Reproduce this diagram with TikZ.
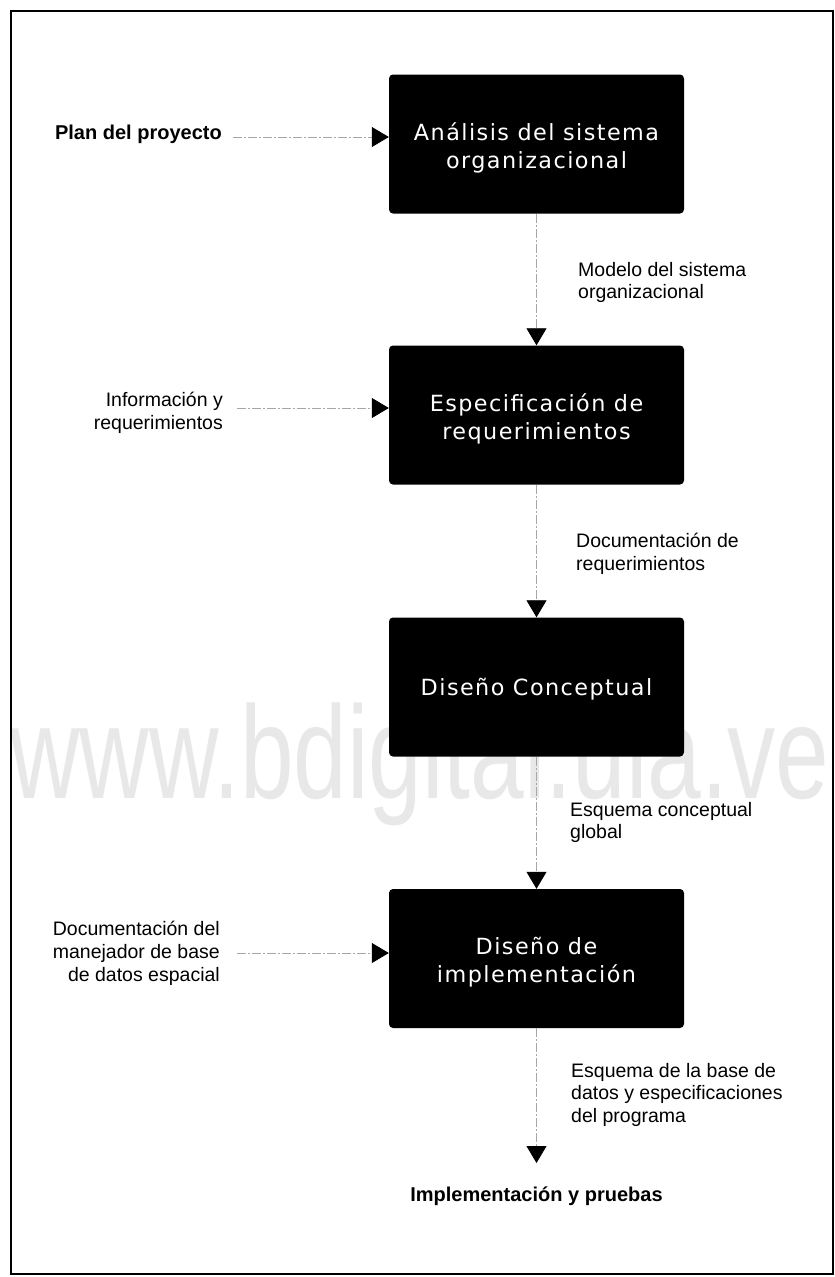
\documentclass[tikz,border=0pt]{standalone}
\usepackage{fontspec}
\setmainfont{Liberation Sans}
\newfontfamily\boxfont[LetterSpace=6.5]{DejaVu Sans}
\newfontfamily\wmfont[FakeStretch=0.73]{Liberation Sans}
\usetikzlibrary{arrows.meta}
\begin{document}
\begin{tikzpicture}[x=1pt,y=-1pt,
  procbox/.style={fill=black, rounded corners=4pt, minimum width=295pt, minimum height=139pt, inner sep=0pt},
  proctext/.style={inner sep=0pt, text=white, align=center, font=\boxfont\fontsize{22.3}{28}\selectfont},
  sidelbl/.style={inner sep=0pt, align=left, anchor=north west, font=\fontsize{19.5}{22.5}\selectfont},
  leftlbl/.style={inner sep=0pt, align=right, anchor=north east, font=\fontsize{19.5}{23}\selectfont},
  boldlbl/.style={inner sep=0pt, font=\bfseries\fontsize{20}{23}\selectfont},
  conn/.style={draw=gray!70, line width=0.8pt, dash pattern=on 9pt off 2pt on 2pt off 2pt, -{Triangle[width=20pt,length=17pt,color=black]}},
  frame/.style={draw=black, line width=1.6pt}
]
\useasboundingbox (0,0) rectangle (835,1277);
\fill[white] (0,0) rectangle (835,1277);
% watermark
\node[anchor=base west, inner sep=0pt, text=black!9, font=\wmfont\fontsize{132}{132}\selectfont] (wm) at (10,798) {www.bdigital.ula.ve};
% frame
\draw[frame] (11,11) rectangle (833,1274);
% process boxes
\node[procbox] (b1) at (536.5,144) {};
\node[procbox] (b2) at (536.5,415) {};
\node[procbox] (b3) at (536.5,687) {};
\node[procbox] (b4) at (536.5,958.5) {};
\node[proctext] (t1) at ([yshift=-4pt]b1.center) {Análisis del sistema\\organizacional};
\node[proctext] (t2) at ([yshift=-4pt]b2.center) {Especificación de\\requerimientos};
\node[proctext] (t3) at ([yshift=-2pt]b3.center) {Diseño Conceptual};
\node[proctext] (t4) at ([yshift=-4pt]b4.center) {Diseño de\\implementación};
% left inputs
\node[leftlbl, boldlbl, anchor=north east] (pp) at (222,125) {Plan del proyecto};
\node[leftlbl] (ir) at (223,392) {Información y\\requerimientos};
\node[leftlbl] (dm) at (220,921) {Documentación del\\manejador de base\\de datos espacial};
\coordinate (ppa) at ([yshift=-12pt]pp.north east);
\coordinate (ira) at ([yshift=-16pt]ir.north east);
\coordinate (dma) at ([yshift=-32pt]dm.north east);
\draw[conn, shorten <=11pt] (ppa) -- (ppa -| b1.west);
\draw[conn, shorten <=14pt] (ira) -- (ira -| b2.west);
\draw[conn, shorten <=17pt] (dma) -- (dma -| b4.west);
% side labels
\node[sidelbl] (l1) at (578,262) {Modelo del sistema\\organizacional};
\node[sidelbl] (l2) at (576,533) {Documentación de\\requerimientos};
\node[sidelbl] (l3) at (570,802) {Esquema conceptual\\global};
\node[sidelbl] (l4) at (571,1063) {Esquema de la base de\\datos y especificaciones\\del programa};
% final output
\node[boldlbl, anchor=north] (ip) at (536.5,1187) {Implementación y pruebas};
% vertical flow
\draw[conn] (b1.south) -- (b2.north);
\draw[conn] (b2.south) -- (b3.north);
\draw[conn] (b3.south) -- (b4.north);
\draw[conn, shorten >=24pt] (b4.south) -- (ip.north);
\end{tikzpicture}
\end{document}
